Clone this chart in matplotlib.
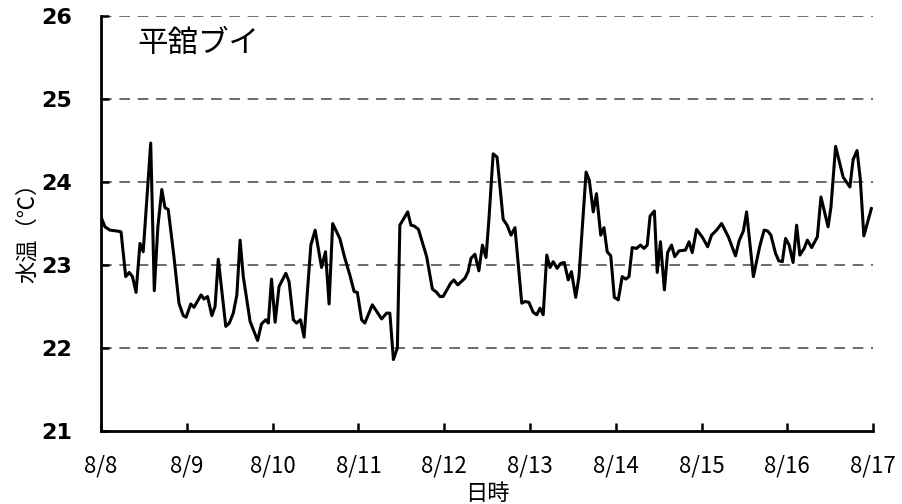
import matplotlib
matplotlib.use('Agg')
import matplotlib.pyplot as plt

# 経過時間 (8/8 0時からの時間) と水温
horas = [0, 1.1, 2.5, 4.4, 5.6, 6.9, 7.9, 8.8, 9.8, 10.9, 11.8, 13.9, 14.9, 15.9,
         17.0, 17.9, 18.8, 20.4, 21.8, 23.0, 23.8, 25.1, 26.0, 28.0, 28.8, 29.8,
         31.0, 31.9, 32.8, 34.9, 35.9, 37.0, 38.0, 38.9, 39.8, 41.7, 43.8, 44.9,
         46.1, 46.8, 47.7, 48.7, 49.8, 51.7, 52.6, 53.8, 54.7, 55.8, 56.8, 58.7,
         59.9, 61.7, 62.8, 63.8, 64.8, 66.8, 68.1, 69.6, 70.8, 71.7, 72.9, 73.8,
         75.9, 78.5, 79.9, 80.8, 81.8, 82.9, 83.6, 85.8, 86.7, 87.6, 88.8, 91.1,
         92.7, 93.9, 94.8, 95.7, 97.8, 98.7, 99.8, 101.8, 102.7, 103.5, 104.6,
         105.7, 106.7, 107.7, 108.5, 109.7, 110.8, 112.5, 113.6, 114.7, 115.8,
         117.7, 118.6, 119.7, 120.9, 121.9, 122.8, 123.7, 124.7, 125.6, 126.5,
         127.6, 128.6, 129.6, 130.7, 131.6, 132.8, 133.7, 135.7, 136.6, 137.7,
         138.6, 139.8, 140.7, 141.6, 142.6, 143.6, 144.7, 145.8, 146.8, 147.7,
         148.6, 149.8, 150.9, 151.9, 152.8, 153.6, 154.8, 155.6, 156.5, 157.6,
         158.5, 159.6, 160.5, 161.7, 163.5, 164.5, 165.4, 166.6, 168.3, 169.7,
         170.8, 172.2, 173.6, 175.5, 177.5, 178.5, 179.7, 180.6, 182.5, 184.3,
         185.5, 186.5, 187.4, 188.7, 189.6, 190.6, 191.5, 192.5, 193.6, 194.6,
         195.5, 196.7, 197.6, 198.8, 200.4, 201.4, 203.4, 204.2, 205.5, 207.6,
         209.5, 210.4, 211.5, 212.4, 213.4, 215.5]
temp = [23.58, 23.46, 23.42, 23.41, 23.40, 22.86, 22.91, 22.86, 22.67, 23.26,
        23.16, 24.47, 22.69, 23.46, 23.91, 23.69, 23.67, 23.10, 22.54, 22.39,
        22.37, 22.53, 22.49, 22.64, 22.59, 22.62, 22.39, 22.50, 23.07, 22.26,
        22.30, 22.42, 22.64, 23.30, 22.86, 22.32, 22.09, 22.29, 22.34, 22.30,
        22.83, 22.31, 22.74, 22.90, 22.80, 22.34, 22.30, 22.34, 22.13, 23.24,
        23.42, 22.97, 23.16, 22.53, 23.50, 23.32, 23.10, 22.88, 22.68, 22.67,
        22.34, 22.30, 22.52, 22.35, 22.42, 22.42, 21.86, 22.00, 23.48, 23.64,
        23.48, 23.47, 23.43, 23.10, 22.71, 22.67, 22.62, 22.62, 22.78, 22.82,
        22.76, 22.84, 22.92, 23.08, 23.13, 22.93, 23.24, 23.09, 23.54, 24.34,
        24.30, 23.55, 23.48, 23.36, 23.45, 22.54, 22.56, 22.55, 22.43, 22.40,
        22.48, 22.40, 23.12, 22.97, 23.04, 22.96, 23.02, 23.03, 22.82, 22.92,
        22.61, 22.86, 24.12, 24.02, 23.64, 23.86, 23.36, 23.45, 23.16, 23.11,
        22.61, 22.58, 22.86, 22.83, 22.86, 23.21, 23.20, 23.24, 23.20, 23.24,
        23.59, 23.65, 22.91, 23.28, 22.70, 23.15, 23.24, 23.10, 23.17, 23.18,
        23.28, 23.15, 23.43, 23.33, 23.22, 23.36, 23.42, 23.50, 23.34, 23.11,
        23.29, 23.41, 23.64, 22.86, 23.23, 23.42, 23.41, 23.36, 23.14, 23.05,
        23.04, 23.32, 23.24, 23.03, 23.48, 23.12, 23.20, 23.30, 23.21, 23.34,
        23.82, 23.46, 23.70, 24.43, 24.06, 23.94, 24.27, 24.38, 24.04, 23.35,
        23.68]

dias = ['8/8', '8/9', '8/10', '8/11', '8/12', '8/13', '8/14', '8/15', '8/16', '8/17']
yticks = [21, 22, 23, 24, 25, 26]

plt.rcParams['font.family'] = ['Noto Sans CJK JP', 'DejaVu Sans']

fig = plt.figure(figsize=(9.02, 5.04), dpi=100)
ax = fig.add_axes([0.112, 0.145, 0.856, 0.823])

for v in yticks[1:]:
    ax.axhline(v, color='#444444', linestyle=(0, (7, 5)), linewidth=1.1, zorder=1)

ax.plot(horas, temp, color='black', linewidth=2.2, zorder=3)

ax.set_xlim(0, 216)
ax.set_ylim(21, 26)
ax.set_xticks([i * 24 for i in range(len(dias))])
ax.set_xticklabels(dias, fontsize=16)
ax.set_yticks(yticks)
ax.set_yticklabels([str(v) for v in yticks], fontsize=16, fontweight='bold',
                   family=['DejaVu Sans'])
ax.tick_params(axis='x', direction='in', length=6, width=1.8, pad=17)
ax.tick_params(axis='y', direction='in', length=6, width=1.8, pad=21)

for s in ['top', 'right']:
    ax.spines[s].set_visible(False)
for s in ['left', 'bottom']:
    ax.spines[s].set_linewidth(2)

ax.text(0.047, 0.934, '平舘ブイ', transform=ax.transAxes, fontsize=22,
        va='center', ha='left')
fig.text(28 / 902, 1 - 227 / 504, '水温（℃）', rotation=90, fontsize=16,
         ha='center', va='center')
fig.text(487 / 902, 1 - 494 / 504, '日時', fontsize=16, ha='center', va='center')

fig.savefig('out.png', dpi=100)
